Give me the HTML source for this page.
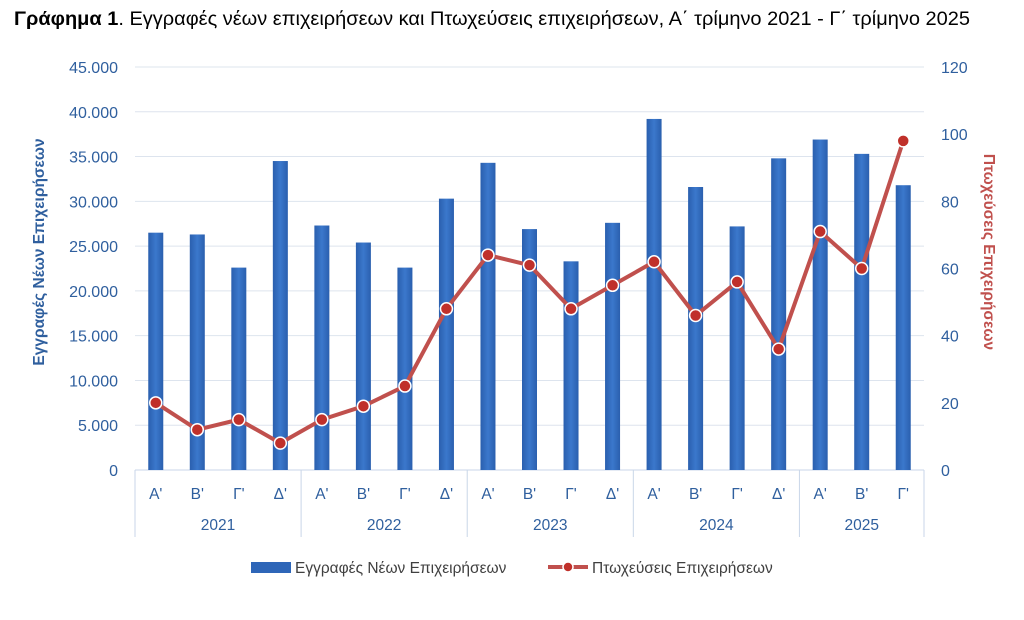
<!DOCTYPE html>
<html><head><meta charset="utf-8"><style>
body{margin:0;background:#fff;width:1024px;height:615px;overflow:hidden;font-family:"Liberation Sans","DejaVu Sans",sans-serif}
</style></head><body>
<svg id="chart" width="1024" height="615" xmlns="http://www.w3.org/2000/svg" font-family="Liberation Sans, DejaVu Sans, sans-serif">
<defs><linearGradient id="bg" x1="0" x2="1" y1="0" y2="0"><stop offset="0" stop-color="#2a5fae"/><stop offset="0.5" stop-color="#3b78cc"/><stop offset="1" stop-color="#2a5fae"/></linearGradient></defs>
<text x="14" y="25" font-size="19.5" fill="#000" textLength="956" lengthAdjust="spacingAndGlyphs"><tspan font-weight="bold">Γράφημα 1</tspan>. Εγγραφές νέων επιχειρήσεων και Πτωχεύσεις επιχειρήσεων, Α΄ τρίμηνο 2021 - Γ΄ τρίμηνο 2025</text>
<g id="grid"></g><g id="bars"></g><g id="axes"></g><g id="line"></g>
<text transform="translate(44,252) rotate(-90)" text-anchor="middle" font-size="15.5" font-weight="bold" fill="#2f5f9e">Εγγραφές Νέων Επιχειρήσεων</text>
<text transform="translate(984,252) rotate(90)" text-anchor="middle" font-size="15.5" font-weight="bold" fill="#c0504d">Πτωχεύσεις Επιχειρήσεων</text>
<g>
<rect x="251" y="562" width="40" height="11" fill="#2e66b8"/>
<text x="295" y="573" font-size="15.5" fill="#404040">Εγγραφές Νέων Επιχειρήσεων</text>
<line x1="548" y1="567" x2="588" y2="567" stroke="#c0504d" stroke-width="4"/>
<circle cx="568" cy="567" r="5" fill="#c0302a" stroke="#fff" stroke-width="1.5"/>
<text x="592" y="573" font-size="15.5" fill="#404040">Πτωχεύσεις Επιχειρήσεων</text>
</g>
</svg>
<script>
const quarters=["Α'","Β'","Γ'","Δ'","Α'","Β'","Γ'","Δ'","Α'","Β'","Γ'","Δ'","Α'","Β'","Γ'","Δ'","Α'","Β'","Γ'"];
const years=["2021","2022","2023","2024","2025"];
const yearCounts=[4,4,4,4,3];
const registrations=[26500,26300,22600,34500,27300,25400,22600,30300,34300,26900,23300,27600,39200,31600,27200,34800,36900,35300,31800];
const bankruptcies=[20,12,15,8,15,19,25,48,64,61,48,55,62,46,56,36,71,60,98];
const leftTicks=[0,5000,10000,15000,20000,25000,30000,35000,40000,45000];
const rightTicks=[0,20,40,60,80,100,120];
const NS="http://www.w3.org/2000/svg";
const X0=135,X1=924,Y0=470,Y1=67;
const step=(X1-X0)/quarters.length;
const xc=i=>X0+step*(i+0.5);
const yL=v=>Y0-(v/45000)*(Y0-Y1);
const yR=v=>Y0-(v/120)*(Y0-Y1);
function mk(tag,attrs,parent,txt){const e=document.createElementNS(NS,tag);for(const k in attrs)e.setAttribute(k,attrs[k]);if(txt!==undefined)e.textContent=txt;document.getElementById(parent).appendChild(e);return e;}
const fmt=v=>v===0?"0":String(v).replace(/(\d)(?=(\d{3})+$)/g,"$1.");
leftTicks.forEach(v=>{
  const g=mk("line",{x1:X0,x2:X1,y1:yL(v),y2:yL(v),stroke:v===0?"#c9d6e8":"#dde4ee","stroke-width":1},"grid");
  
  
  const t=mk("text",{x:118,y:yL(v)+6,"text-anchor":"end","font-size":16,fill:"#2f5f9e"},"axes",fmt(v));
  
  
});
rightTicks.forEach(v=>{
  const t=mk("text",{x:941,y:yR(v)+6,"font-size":16,fill:"#2f5f9e"},"axes",String(v));
  
  
});
registrations.forEach((v,i)=>{
  const r=mk("rect",{x:xc(i)-7.5,y:yL(v),width:15,height:Y0-yL(v),fill:"url(#bg)"},"bars");
  
  
});
quarters.forEach((q,i)=>{
  const t=mk("text",{x:xc(i),y:499,"text-anchor":"middle","font-size":15.5,fill:"#2f5f9e"},"axes",q);
  
  
});
let idx=0;
const sep=i=>{const l=mk("line",{x1:X0+step*i,x2:X0+step*i,y1:Y0,y2:537,stroke:"#c9d6e8","stroke-width":1},"axes");
  
  };
sep(0);
years.forEach((y,k)=>{
  const mid=X0+step*(idx+yearCounts[k]/2);
  const t=mk("text",{x:mid,y:530,"text-anchor":"middle","font-size":15.5,fill:"#2f5f9e"},"axes",y);
  
  
  idx+=yearCounts[k];sep(idx);
});
const pts=bankruptcies.map((v,i)=>xc(i)+","+yR(v)).join(" ");
const pl=mk("polyline",{points:pts,fill:"none",stroke:"#c0504d","stroke-width":4,"stroke-linejoin":"round"},"line");


bankruptcies.forEach((v,i)=>{
  const c=mk("circle",{cx:xc(i),cy:yR(v),r:6,fill:"#c0302a",stroke:"#fff","stroke-width":1.5},"line");
  
  
});
</script>
</body></html>
